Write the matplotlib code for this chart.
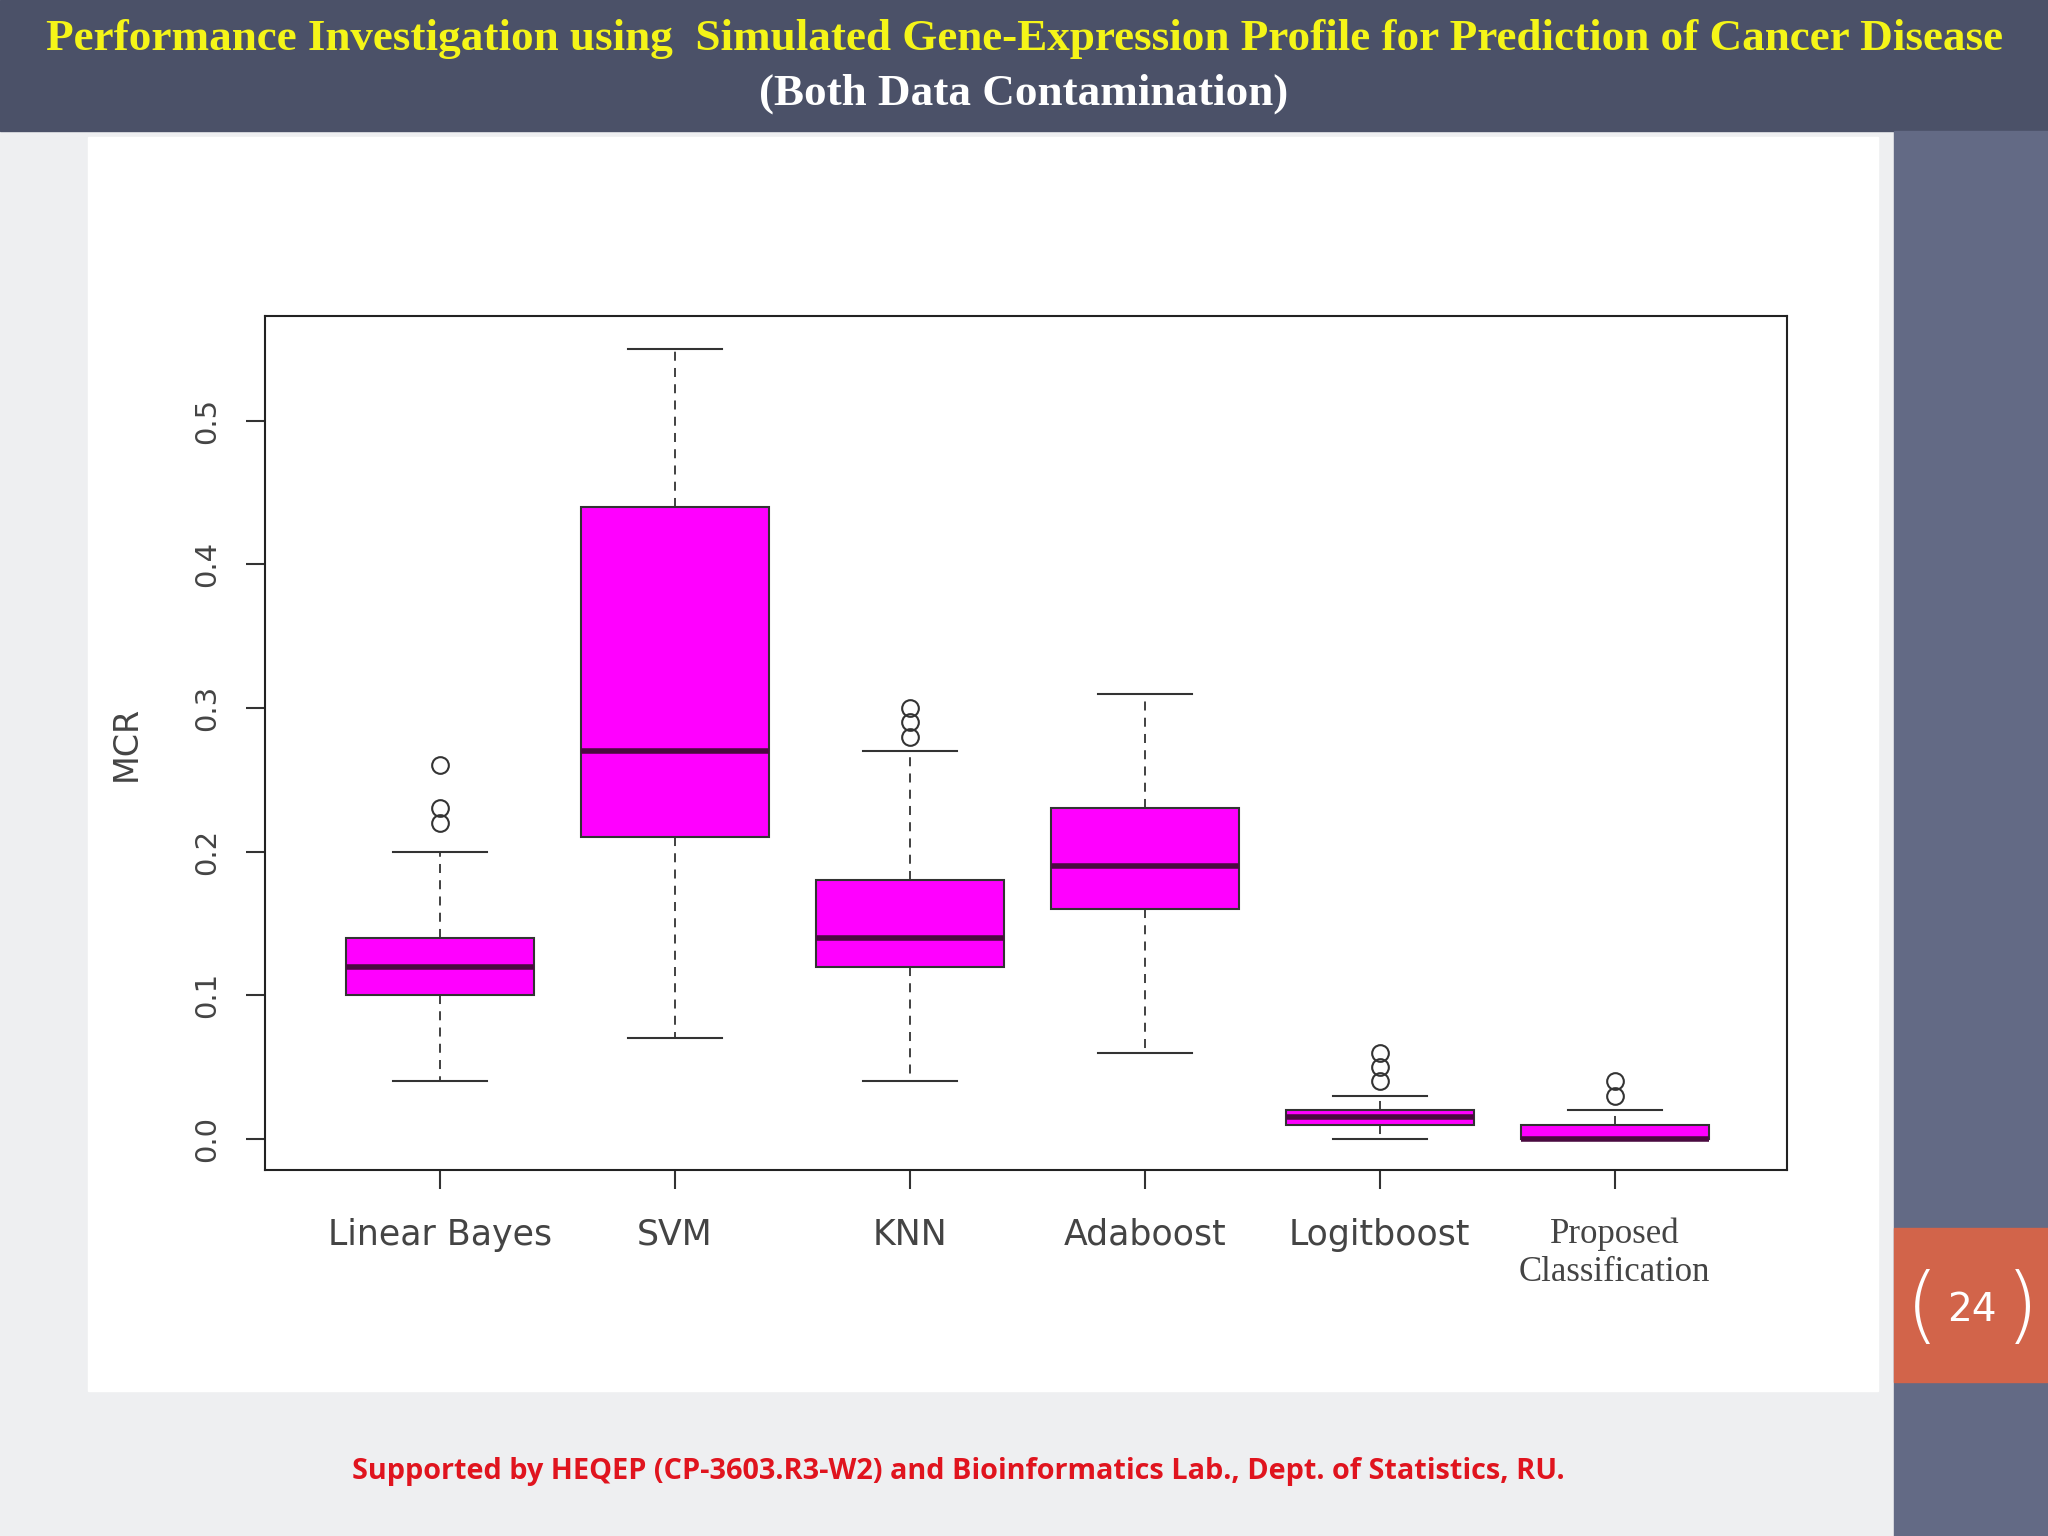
import matplotlib.pyplot as plt
from matplotlib.patches import Rectangle

labels = ["Linear Bayes", "SVM", "KNN", "Adaboost", "Logitboost", "Proposed\nClassification"]
whislo = [0.04, 0.07, 0.04, 0.06, 0.0, 0.0]
q1 = [0.10, 0.21, 0.12, 0.16, 0.01, 0.0]
med = [0.12, 0.27, 0.14, 0.19, 0.015, 0.0]
q3 = [0.14, 0.44, 0.18, 0.23, 0.02, 0.01]
whishi = [0.20, 0.55, 0.27, 0.31, 0.03, 0.02]
fliers = [[0.22, 0.23, 0.26], [], [0.28, 0.29, 0.30], [], [0.04, 0.05, 0.06], [0.03, 0.04]]
yticks = [0.0, 0.1, 0.2, 0.3, 0.4, 0.5]

fig = plt.figure(figsize=(20.48, 15.36), dpi=100)
fig.patch.set_facecolor("#eeeff1")

# slide decorations (behind the axes)
def band(x0, y0, x1, y1, color):
    fig.add_artist(Rectangle((x0 / 1568, 1 - y1 / 1176), (x1 - x0) / 1568, (y1 - y0) / 1176,
                             transform=fig.transFigure, color=color, zorder=-5))

band(0, 0, 1568, 100, "#4b5168")
band(1450, 100, 1568, 1176, "#636a85")
band(1450, 940, 1568, 1058, "#d2644a")
band(67, 105, 1438, 1065, "white")
fig.text(1510 / 1568, 1 - 1003 / 1176, "24", color="white", fontsize=28, ha="center", va="center")
fig.text(1472 / 1568, 1 - 1003 / 1176, "(", color="white", fontsize=60, ha="center", va="center", fontweight="light")
fig.text(1548 / 1568, 1 - 1003 / 1176, ")", color="white", fontsize=60, ha="center", va="center", fontweight="light")

fig.text(0.5, 1 - 30 / 1176, "Performance Investigation using  Simulated Gene-Expression Profile for Prediction of Cancer Disease",
         color="#f5f518", fontsize=32.5, fontweight="bold", family="Liberation Serif", ha="center", va="center")
fig.text(0.5, 1 - 72 / 1176, "(Both Data Contamination)", color="white", fontsize=32.5, fontweight="bold",
         family="Liberation Serif", ha="center", va="center")
fig.text(734 / 1568, 1 - 1127 / 1176, "Supported by HEQEP (CP-3603.R3-W2) and Bioinformatics Lab., Dept. of Statistics, RU.",
         color="#e0141e", fontsize=20.8, fontweight="bold", family="Open Sans", ha="center", va="center")

ax = fig.add_axes([203 / 1568, 1 - 896 / 1176, (1368 - 203) / 1568, (896 - 242) / 1176])
ax.set_facecolor("white")
stats = []
for i in range(len(labels)):
    stats.append(dict(whislo=whislo[i], q1=q1[i], med=med[i], q3=q3[i], whishi=whishi[i], fliers=fliers[i]))
ax.bxp(stats, positions=range(1, 7), widths=0.8, patch_artist=True,
       boxprops=dict(facecolor="#ff00ff", edgecolor="#333333", linewidth=1.5),
       medianprops=dict(color="#4a0a40", linewidth=4),
       whiskerprops=dict(color="#333333", linestyle=(0, (5, 4)), linewidth=1.3),
       capprops=dict(color="#333333", linewidth=1.5), capwidths=0.4,
       flierprops=dict(marker="o", markerfacecolor="none", markeredgecolor="#333333",
                       markersize=12, markeredgewidth=1.5))
ax.set_xlim(0.256, 6.733)
ax.set_ylim(-0.0218, 0.5727)
ax.set_yticks(yticks)
ax.set_yticklabels([f"{t:.1f}" for t in yticks], rotation=90, va="center")
ax.set_xticks(range(1, 7))
ax.set_xticklabels(labels, fontsize=25, color="#444444")
ax.get_xticklabels()[-1].set_family("Liberation Serif")
ax.tick_params(axis="both", length=14, width=1.5, color="#333333")
ax.tick_params(axis="x", pad=20)
ax.tick_params(axis="y", labelsize=21, labelcolor="#444444", pad=18)
ax.set_ylabel("MCR", fontsize=24, color="#444444", labelpad=36)
for s in ax.spines.values():
    s.set_linewidth(1.5)
    s.set_color("#222222")

fig.savefig("out.png", dpi=100)
